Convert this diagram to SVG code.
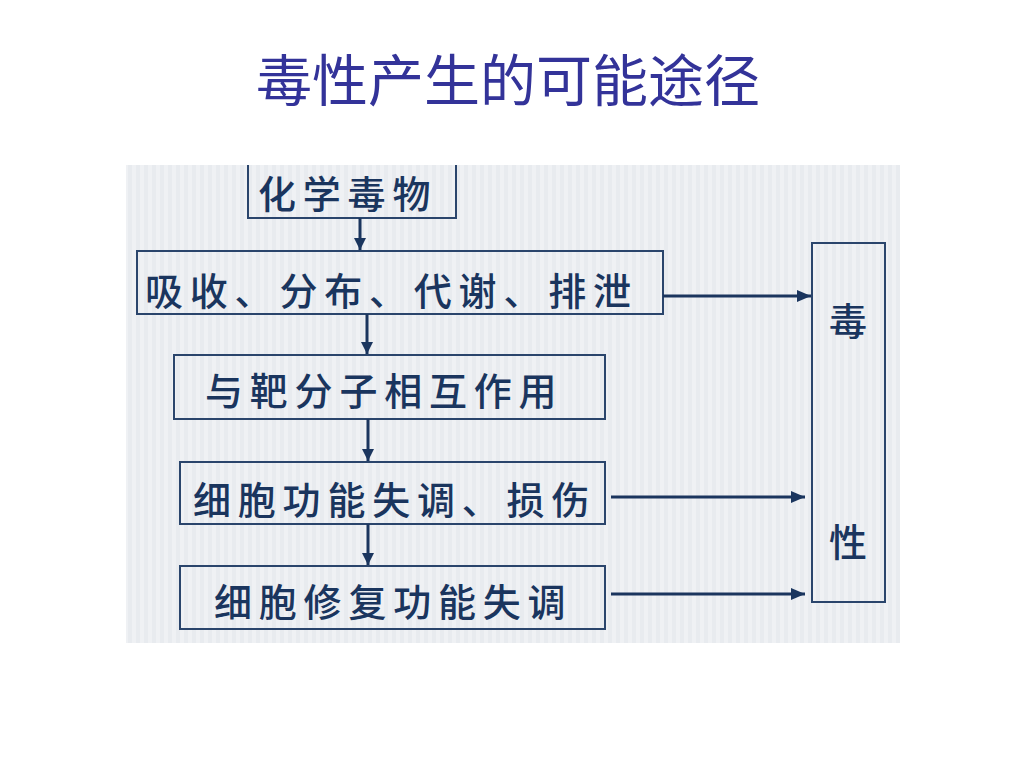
<svg xmlns="http://www.w3.org/2000/svg" width="1024" height="768" viewBox="0 0 1024 768">
<defs>
<pattern id="stripes" x="0" y="0" width="8" height="8" patternUnits="userSpaceOnUse">
<rect width="8" height="8" fill="#eff1f4"/>
<rect width="4" height="8" fill="#e8ebef"/>
</pattern>
<marker id="ah" viewBox="0 0 12 14" refX="12" refY="6" markerWidth="12" markerHeight="14" markerUnits="userSpaceOnUse" orient="auto">
<path d="M0,0 L12,6 L0,12 Z" fill="#1a355e"/>
</marker>
<marker id="ahr" viewBox="0 0 14 12" refX="14" refY="6" markerWidth="14" markerHeight="12" markerUnits="userSpaceOnUse" orient="auto">
<path d="M0,0 L14,6 L0,12 Z" fill="#1a355e"/>
</marker>
</defs>
<style>
.box{fill:none;stroke:#2a456c;stroke-width:2}
.t{font-family:"Noto Sans CJK SC","Noto Sans CJK TC",sans-serif;font-size:38px;font-weight:500;fill:#1a355e;letter-spacing:6.8px;dominant-baseline:central}
.c{stroke:#1a355e;stroke-width:3;fill:none}
.title{font-family:"Noto Sans CJK SC",sans-serif;font-size:56px;fill:#333399;text-anchor:middle}
</style>
<rect width="1024" height="768" fill="#ffffff"/>
<text class="title" x="508" y="101">毒性产生的可能途径</text>
<rect x="126" y="165" width="774" height="478" fill="url(#stripes)"/>
<g id="n1">
<path class="box" d="M248,165 V218 H456 V165"/>
<text class="t" x="258" y="191">化学毒物</text>
</g>
<g id="n2">
<rect class="box" x="137" y="251" width="526" height="63"/>
<text class="t" x="145" y="288">吸收、分布、代谢、排泄</text>
</g>
<g id="n3">
<rect class="box" x="174" y="355" width="431" height="64"/>
<text class="t" x="205" y="388">与靶分子相互作用</text>
</g>
<g id="n4">
<rect class="box" x="180" y="462" width="425" height="62"/>
<text class="t" x="193" y="497">细胞功能失调、损伤</text>
</g>
<g id="n5">
<rect class="box" x="180" y="566" width="425" height="63"/>
<text class="t" x="214" y="599">细胞修复功能失调</text>
</g>
<g id="n6">
<rect class="box" x="812" y="243" width="73" height="359"/>
<text class="t" x="848" y="318" text-anchor="middle" style="letter-spacing:0">毒</text>
<text class="t" x="848" y="539" text-anchor="middle" style="letter-spacing:0">性</text>
</g>
<g id="connectors">
<line class="c" x1="360" y1="218" x2="360" y2="250" marker-end="url(#ah)"/>
<line class="c" x1="367" y1="314" x2="367" y2="354" marker-end="url(#ah)"/>
<line class="c" x1="368" y1="419" x2="368" y2="461" marker-end="url(#ah)"/>
<line class="c" x1="368" y1="524" x2="368" y2="565" marker-end="url(#ah)"/>
<line class="c" x1="663" y1="296" x2="811" y2="296" marker-end="url(#ahr)"/>
<line class="c" x1="611" y1="497" x2="805" y2="497" marker-end="url(#ahr)"/>
<line class="c" x1="611" y1="594" x2="805" y2="594" marker-end="url(#ahr)"/>
</g>
</svg>
